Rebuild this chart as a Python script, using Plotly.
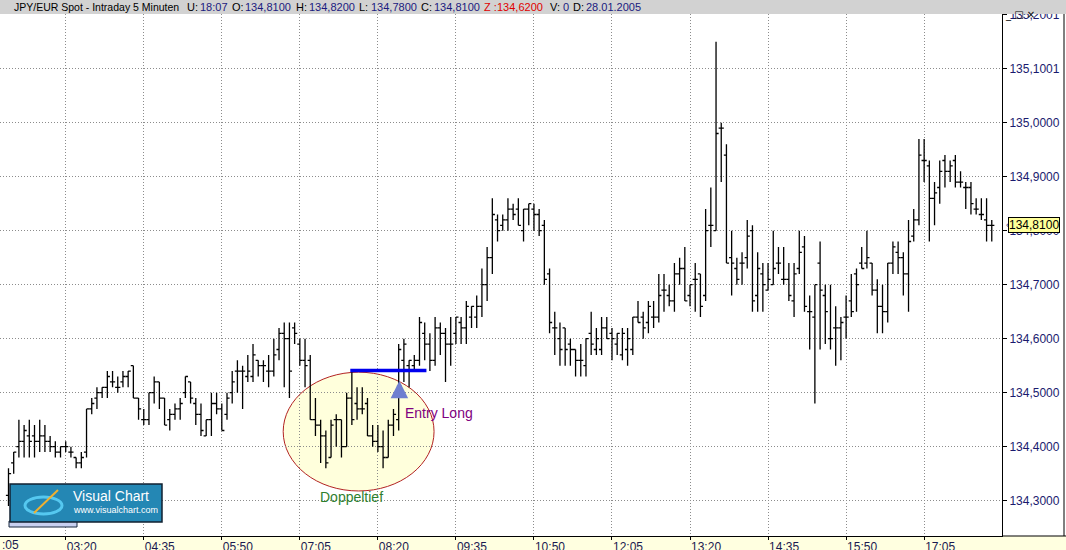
import pandas as pd
import plotly.graph_objects as go

# JPY/EUR Spot, 5-Minuten-Bars vom 28.01.2005 (erster sichtbarer Bar 02:25)
opens = [134.31, 134.37, 134.40, 134.41, 134.42, 134.42, 134.41, 134.42, 134.41, 134.40,
         134.39, 134.40, 134.39, 134.38, 134.37, 134.39, 134.47, 134.49, 134.50, 134.51,
         134.52, 134.51, 134.52, 134.53, 134.55, 134.49, 134.45, 134.45, 134.50, 134.52,
         134.49, 134.45, 134.46, 134.47, 134.50, 134.52, 134.48, 134.46, 134.42, 134.45,
         134.48, 134.47, 134.46, 134.50, 134.54, 134.54, 134.53, 134.53, 134.56, 134.55,
         134.54, 134.54, 134.58, 134.61, 134.60, 134.62, 134.59, 134.56, 134.56, 134.45,
         134.44, 134.42, 134.38, 134.45, 134.45, 134.40, 134.49, 134.48, 134.47, 134.48,
         134.42, 134.41, 134.40, 134.38, 134.44, 134.45, 134.56, 134.55, 134.55, 134.56,
         134.61, 134.59, 134.56, 134.62, 134.61, 134.59, 134.61, 134.63, 134.62, 134.64,
         134.64, 134.66, 134.70, 134.75, 134.82, 134.81, 134.82, 134.84, 134.84, 134.80,
         134.84, 134.84, 134.83, 134.81, 134.72, 134.62, 134.60, 134.62, 134.59, 134.58,
         134.56, 134.55, 134.61, 134.58, 134.58, 134.62, 134.61, 134.59, 134.57, 134.58,
         134.58, 134.64, 134.64, 134.63, 134.64, 134.64, 134.69, 134.68, 134.67, 134.72,
         134.73, 134.68, 134.71, 134.72, 134.68, 134.81, 134.80, 134.99, 134.94, 134.75,
         134.73, 134.74, 134.75, 134.80, 134.68, 134.72, 134.69, 134.70, 134.74, 134.71,
         134.71, 134.67, 134.73, 134.77, 134.65, 134.64, 134.74, 134.68, 134.60, 134.62,
         134.62, 134.64, 134.67, 134.72, 134.74, 134.74, 134.74, 134.69, 134.66, 134.65,
         134.74, 134.76, 134.75, 134.72, 134.79, 134.82, 134.93, 134.92, 134.86, 134.88,
         134.93, 134.91, 134.93, 134.89, 134.88, 134.88, 134.84, 134.83, 134.82, 134.81]
highs = [134.36, 134.39, 134.45, 134.44, 134.45, 134.44, 134.45, 134.44, 134.42, 134.41,
         134.40, 134.41, 134.40, 134.38, 134.39, 134.47, 134.49, 134.51, 134.51, 134.54,
         134.54, 134.53, 134.54, 134.54, 134.55, 134.49, 134.47, 134.50, 134.53, 134.52,
         134.49, 134.47, 134.48, 134.49, 134.53, 134.52, 134.49, 134.48, 134.45, 134.50,
         134.50, 134.48, 134.50, 134.54, 134.56, 134.55, 134.57, 134.59, 134.56, 134.56,
         134.57, 134.60, 134.62, 134.63, 134.63, 134.63, 134.60, 134.60, 134.57, 134.49,
         134.45, 134.43, 134.45, 134.46, 134.45, 134.50, 134.54, 134.51, 134.51, 134.49,
         134.44, 134.44, 134.43, 134.45, 134.47, 134.59, 134.60, 134.56, 134.57, 134.64,
         134.63, 134.61, 134.64, 134.63, 134.62, 134.64, 134.64, 134.64, 134.67, 134.66,
         134.68, 134.73, 134.77, 134.86, 134.83, 134.83, 134.86, 134.85, 134.86, 134.84,
         134.85, 134.85, 134.84, 134.82, 134.73, 134.65, 134.63, 134.62, 134.60, 134.58,
         134.59, 134.60, 134.65, 134.62, 134.64, 134.64, 134.62, 134.61, 134.62, 134.62,
         134.64, 134.67, 134.65, 134.67, 134.67, 134.72, 134.72, 134.70, 134.74, 134.75,
         134.77, 134.70, 134.74, 134.72, 134.84, 134.88, 135.15, 135.00, 134.96, 134.80,
         134.75, 134.76, 134.82, 134.81, 134.76, 134.74, 134.74, 134.80, 134.77, 134.77,
         134.74, 134.74, 134.80, 134.79, 134.68, 134.70, 134.78, 134.70, 134.70, 134.66,
         134.64, 134.68, 134.72, 134.73, 134.77, 134.80, 134.74, 134.71, 134.70, 134.74,
         134.78, 134.78, 134.76, 134.82, 134.84, 134.97, 134.97, 134.93, 134.89, 134.93,
         134.94, 134.93, 134.94, 134.91, 134.89, 134.89, 134.86, 134.86, 134.86, 134.82]
lows = [134.29, 134.35, 134.38, 134.38, 134.38, 134.38, 134.39, 134.39, 134.39, 134.38,
        134.38, 134.39, 134.38, 134.36, 134.36, 134.38, 134.46, 134.47, 134.49, 134.49,
        134.51, 134.50, 134.51, 134.51, 134.49, 134.45, 134.44, 134.44, 134.48, 134.47,
        134.44, 134.43, 134.45, 134.45, 134.49, 134.48, 134.44, 134.42, 134.42, 134.42,
        134.46, 134.43, 134.45, 134.48, 134.50, 134.47, 134.52, 134.52, 134.53, 134.52,
        134.51, 134.53, 134.56, 134.51, 134.49, 134.59, 134.55, 134.51, 134.45, 134.42,
        134.37, 134.36, 134.38, 134.40, 134.38, 134.40, 134.44, 134.45, 134.46, 134.42,
        134.40, 134.39, 134.36, 134.38, 134.42, 134.43, 134.52, 134.51, 134.54, 134.55,
        134.56, 134.54, 134.55, 134.57, 134.52, 134.55, 134.59, 134.59, 134.59, 134.62,
        134.62, 134.64, 134.67, 134.72, 134.78, 134.80, 134.80, 134.82, 134.81, 134.78,
        134.81, 134.80, 134.79, 134.70, 134.61, 134.57, 134.55, 134.55, 134.55, 134.53,
        134.53, 134.53, 134.57, 134.57, 134.57, 134.60, 134.56, 134.57, 134.56, 134.55,
        134.57, 134.63, 134.60, 134.61, 134.62, 134.63, 134.65, 134.66, 134.65, 134.70,
        134.67, 134.66, 134.65, 134.64, 134.67, 134.77, 134.80, 134.89, 134.74, 134.68,
        134.70, 134.70, 134.73, 134.65, 134.65, 134.65, 134.69, 134.70, 134.72, 134.70,
        134.67, 134.64, 134.72, 134.65, 134.58, 134.48, 134.58, 134.59, 134.58, 134.55,
        134.56, 134.60, 134.64, 134.65, 134.73, 134.73, 134.68, 134.61, 134.61, 134.63,
        134.72, 134.72, 134.68, 134.65, 134.78, 134.81, 134.89, 134.78, 134.81, 134.85,
        134.88, 134.89, 134.88, 134.88, 134.84, 134.83, 134.83, 134.82, 134.78, 134.78]
closes = [134.35, 134.39, 134.41, 134.43, 134.41, 134.41, 134.42, 134.41, 134.40, 134.39,
          134.40, 134.40, 134.39, 134.37, 134.38, 134.47, 134.48, 134.50, 134.51, 134.53,
          134.52, 134.51, 134.53, 134.54, 134.49, 134.47, 134.45, 134.50, 134.52, 134.49,
          134.44, 134.46, 134.47, 134.48, 134.53, 134.49, 134.46, 134.43, 134.45, 134.48,
          134.47, 134.43, 134.49, 134.52, 134.54, 134.54, 134.54, 134.57, 134.55, 134.55,
          134.54, 134.57, 134.61, 134.60, 134.54, 134.61, 134.56, 134.55, 134.45, 134.44,
          134.42, 134.37, 134.44, 134.45, 134.40, 134.49, 134.45, 134.47, 134.47, 134.42,
          134.41, 134.40, 134.38, 134.44, 134.46, 134.58, 134.59, 134.56, 134.56, 134.63,
          134.59, 134.56, 134.62, 134.61, 134.59, 134.59, 134.64, 134.62, 134.66, 134.66,
          134.66, 134.70, 134.75, 134.83, 134.80, 134.82, 134.84, 134.83, 134.81, 134.84,
          134.85, 134.83, 134.80, 134.71, 134.63, 134.62, 134.58, 134.58, 134.58, 134.56,
          134.56, 134.60, 134.59, 134.60, 134.62, 134.60, 134.60, 134.61, 134.61, 134.60,
          134.64, 134.63, 134.62, 134.66, 134.64, 134.68, 134.69, 134.67, 134.72, 134.73,
          134.67, 134.70, 134.71, 134.66, 134.80, 134.81, 134.98, 134.99, 134.74, 134.74,
          134.71, 134.74, 134.79, 134.67, 134.73, 134.70, 134.71, 134.73, 134.74, 134.71,
          134.68, 134.72, 134.76, 134.66, 134.65, 134.70, 134.69, 134.65, 134.60, 134.62,
          134.63, 134.64, 134.65, 134.70, 134.73, 134.75, 134.69, 134.66, 134.65, 134.74,
          134.77, 134.75, 134.72, 134.78, 134.82, 134.94, 134.93, 134.86, 134.87, 134.91,
          134.91, 134.92, 134.89, 134.89, 134.88, 134.85, 134.84, 134.83, 134.81, 134.81]
times = pd.date_range('2005-01-28 02:25', periods=len(opens), freq='5min')

price_ticks = [134.3, 134.4, 134.5, 134.6, 134.7, 134.8, 134.9, 135.0, 135.1, 135.2]
price_labels = ['134,3000', '134,4000', '134,5000', '134,6000', '134,7000',
                '134,8000', '134,9000', '135,0000', '135,1001', '135,2001']

# Kopfzeile: (Text, Farbe, x-Position in px, Schriftgröße)
header = [
    ('JPY/EUR Spot - Intraday 5 Minuten', 'black', 12, 10.5),
    ('U:', 'black', 185, 11), ('18:07', '#1a1a80', 198, 11),
    ('O:', 'black', 230, 11), ('134,8100', '#1a1a80', 243, 11),
    ('H:', 'black', 294, 11), ('134,8200', '#1a1a80', 307, 11),
    ('L:', 'black', 357, 11), ('134,7800', '#1a1a80', 369, 11),
    ('C:', 'black', 419, 11), ('134,8100', '#1a1a80', 432, 11),
    ('Z :', '#e00000', 482, 11), ('134,6200', '#e00000', 495, 11),
    ('V:', 'black', 548, 11), ('0', '#1a1a80', 561, 11),
    ('D:', 'black', 571, 11), ('28.01.2005', '#1a1a80', 584, 11),
]

W_PLOT, Y_TOP, Y_BOT = 1002, 14, 536


def px(x):
    return x / W_PLOT


def py(y):
    return (Y_BOT - y) / (Y_BOT - Y_TOP)


FONT = 'Liberation Sans, Arial, sans-serif'

fig = go.Figure(go.Ohlc(
    x=times, open=opens, high=highs, low=lows, close=closes,
    increasing_line_color='black', decreasing_line_color='black',
    line_width=1.3, tickwidth=0.5, hoverinfo='x+y'))

shapes = [
    # Kopfzeile und Achsenstreifen
    dict(type='rect', xref='paper', yref='paper', x0=0, x1=px(1066), y0=1, y1=py(0),
         fillcolor='#d2d2d2', line_width=0, layer='above'),
    dict(type='rect', xref='paper', yref='paper', x0=0, x1=px(1066), y0=py(550), y1=0,
         fillcolor='#ffffe0', line_width=0, layer='below'),
    dict(type='line', xref='paper', yref='paper', x0=1, x1=px(1066), y0=0, y1=0,
         line=dict(color='black', width=1)),
    dict(type='line', xref='paper', yref='paper', x0=px(1064), x1=px(1064), y0=0, y1=1,
         line=dict(color='black', width=1)),
    # Doppeltief-Ellipse
    dict(type='circle', xref='x', yref='y',
         x0='2005-01-28 06:49', x1='2005-01-28 09:14', y0=134.318, y1=134.538,
         fillcolor='#ffffdc', line=dict(color='#b22222', width=1), layer='below'),
    # Widerstandslinie
    dict(type='line', xref='x', yref='y',
         x0='2005-01-28 07:53:30', x1='2005-01-28 09:06:40', y0=134.541, y1=134.541,
         line=dict(color='#0000ee', width=3.5), layer='above'),
    # Logo
    dict(type='rect', xref='paper', yref='paper', x0=px(9), x1=px(77), y0=py(527), y1=py(521),
         fillcolor='#c8d0f0', line=dict(color='#1a2a40', width=1), layer='above'),
    dict(type='rect', xref='paper', yref='paper', x0=px(10), x1=px(162), y0=py(522), y1=py(484),
         fillcolor='#2487b4', line=dict(color='#102030', width=1.5), layer='above'),
    dict(type='circle', xref='paper', yref='paper', x0=px(25), x1=px(62), y0=py(514), y1=py(497),
         line=dict(color='#55c8f0', width=3), layer='above'),
    dict(type='line', xref='paper', yref='paper', x0=px(34), x1=px(58), y0=py(513), y1=py(490),
         line=dict(color='#f0b030', width=2), layer='above'),
]

annotations = [
    dict(x=px(x), y=py(7), xref='paper', yref='paper', text=t, showarrow=False,
         xanchor='left', yanchor='middle', font=dict(family=FONT, size=s, color=c))
    for t, c, x, s in header
]
annotations += [
    dict(x=px(1037), y=py(7), xref='paper', yref='paper', text='_ □ ×', showarrow=False,
         font=dict(family='DejaVu Sans', size=10, color='black')),
    dict(x=0, y=py(545), xref='paper', yref='paper', text=':05', showarrow=False,
         xanchor='left', yanchor='middle', font=dict(family=FONT, size=12, color='#1a1a50')),
    dict(x=px(1008), y=134.81, xref='paper', yref='y', text='134,8100', showarrow=False,
         xanchor='left', yanchor='middle', bgcolor='#ffff99', bordercolor='black',
         borderwidth=1, borderpad=0, font=dict(family=FONT, size=12, color='black')),
    dict(x=px(1004), y=134.81, xref='paper', yref='y', text='‹', showarrow=False,
         xanchor='left', yanchor='middle', font=dict(family=FONT, size=9, color='#1a1a6e')),
    dict(x='2005-01-28 08:40:40', y=134.522, xref='x', yref='y', text='', showarrow=True,
         ax=0, ay=17, arrowhead=2, arrowwidth=5, arrowsize=0.7, arrowcolor='#6f7fd0',
         standoff=0),
    dict(x='2005-01-28 08:44:30', y=134.462, xref='x', yref='y', text='Entry Long',
         showarrow=False, xanchor='left', yanchor='middle',
         font=dict(family=FONT, size=14, color='#800080')),
    dict(x='2005-01-28 07:55', y=134.307, xref='x', yref='y', text='Doppeltief',
         showarrow=False, xanchor='center', yanchor='middle',
         font=dict(family=FONT, size=14, color='#2f7f2f')),
    dict(x=px(71), y=py(496), xref='paper', yref='paper', text='Visual Chart',
         showarrow=False, xanchor='left', yanchor='middle',
         font=dict(family=FONT, size=14, color='white')),
    dict(x=px(71), y=py(510), xref='paper', yref='paper', text='www.visualchart.com',
         showarrow=False, xanchor='left', yanchor='middle',
         font=dict(family=FONT, size=9, color='white')),
]

fig.update_layout(
    width=1066, height=550,
    margin=dict(l=0, r=1066 - W_PLOT, t=Y_TOP, b=550 - Y_BOT),
    paper_bgcolor='white', plot_bgcolor='white',
    showlegend=False, separators=',.',
    shapes=shapes, annotations=annotations,
    xaxis=dict(
        type='date', range=['2005-01-28 02:16:50', '2005-01-28 18:19:50'],
        rangeslider=dict(visible=False),
        tick0='2005-01-28 03:20', dtick=75 * 60 * 1000, tickformat='%H:%M',
        showgrid=True, gridcolor='#8c8c8c', griddash='1px,2px', gridwidth=1,
        ticks='outside', ticklen=3, tickcolor='black',
        showline=True, linecolor='black', linewidth=1,
        ticklabelposition='outside right',
        tickfont=dict(family=FONT, size=12, color='#1a1a50'),
        automargin=False, zeroline=False),
    yaxis=dict(
        side='right', range=[134.2346, 135.2013],
        tickvals=price_ticks, ticktext=price_labels,
        showgrid=True, gridcolor='#8c8c8c', griddash='1px,2px', gridwidth=1,
        ticks='outside', ticklen=4, tickcolor='black',
        showline=True, linecolor='black', linewidth=1,
        tickfont=dict(family=FONT, size=12, color='#1a1a6e'),
        automargin=False, zeroline=False),
)

# Seitenrand des Browsers entfernen, damit das Bild bei (0, 0) beginnt
fig.write_html('out.html', config={'displayModeBar': False},
               post_script="document.body.style.margin='0px';")
